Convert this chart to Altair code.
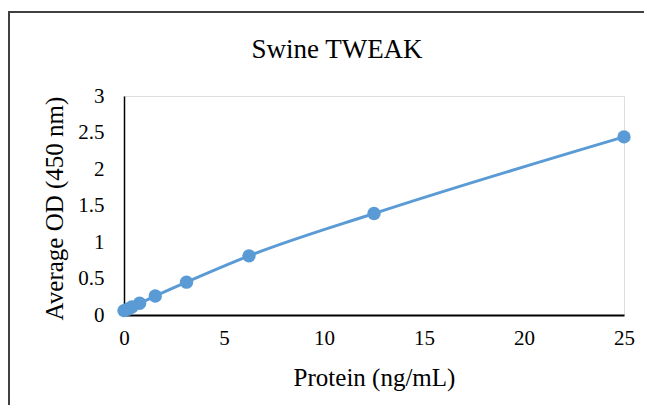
import altair as alt
import pandas as pd

protein = [0, 0.195, 0.39, 0.78, 1.5625, 3.125, 6.25, 12.5, 25]
od = [0.06, 0.08, 0.11, 0.16, 0.26, 0.45, 0.81, 1.39, 2.44]

df = pd.DataFrame({"Protein": protein, "OD": od})

FONT = "Liberation Serif"
BLUE = "#5B9BD5"

x = alt.X("Protein:Q", scale=alt.Scale(domain=[0, 25], nice=False, zero=True),
          axis=alt.Axis(title="Protein (ng/mL)", values=[0, 5, 10, 15, 20, 25],
                        grid=False, ticks=False, domainColor="black", domainWidth=2,
                        labelFlush=False,
                        labelPadding=12, labelFontSize=21, labelColor="black", labelFont=FONT,
                        titleFont=FONT, titleFontSize=25, titleFontWeight="normal", titleColor="black",
                        titleY=70, titleBaseline="alphabetic"))
y = alt.Y("OD:Q", scale=alt.Scale(domain=[0, 3], nice=False),
          axis=alt.Axis(title="Average OD (450 nm)", values=[0, 0.5, 1, 1.5, 2, 2.5, 3],
                        format="~g", labelFlush=False,
                        grid=False, ticks=False, domainColor="black", domainWidth=1.5,
                        labelPadding=20, labelFontSize=21, labelColor="black", labelFont=FONT,
                        titleFont=FONT, titleFontSize=25, titleFontWeight="normal", titleColor="black",
                        titleX=-70, titleY=112, titleAngle=-90, titleBaseline="middle", titleAlign="center"))

line = alt.Chart(df).mark_line(color=BLUE, strokeWidth=3, interpolate="monotone").encode(x=x, y=y)
pts = alt.Chart(df).mark_circle(color=BLUE, size=180, opacity=1).encode(x=x, y=y)

border_top = alt.Chart(df).mark_rule(color="#404040", strokeWidth=1.5).encode(
    x=alt.value(-116), x2=alt.value(530), y=alt.value(-84))
border_left = alt.Chart(df).mark_rule(color="#404040", strokeWidth=1.5).encode(
    x=alt.value(-115), y=alt.value(-84), y2=alt.value(320))

chart = alt.layer(border_top, border_left, line, pts).properties(
    width=500, height=219,
    title=alt.TitleParams("Swine TWEAK", font=FONT, fontSize=27, fontWeight="normal",
                          color="black", anchor="middle", dx=-37, dy=78, baseline="alphabetic"),
    autosize=alt.AutoSizeParams(type="none"),
    padding={"left": 116, "top": 88, "right": 20, "bottom": 90},
).configure_view(stroke=None).configure(background="white")

chart.save("out.html", embed_options={"renderer": "svg", "actions": False})
